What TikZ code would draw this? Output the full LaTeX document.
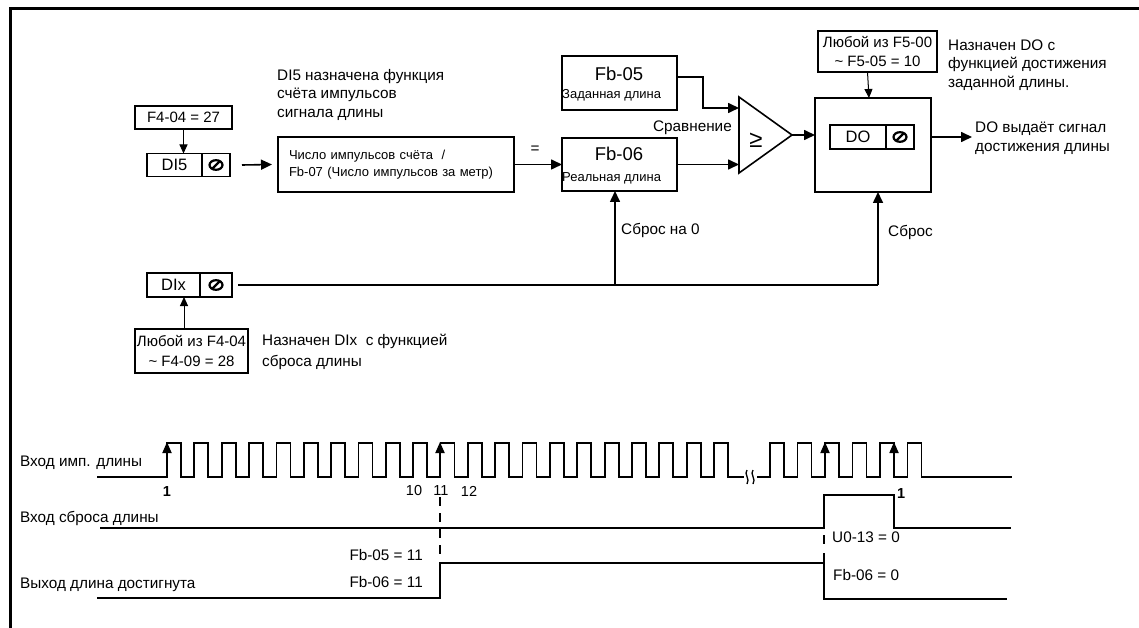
\documentclass[tikz,border=0pt]{standalone}
\usepackage{fontspec}
\setmainfont{Liberation Sans}
\usetikzlibrary{arrows.meta,calc}
\begin{document}
\begin{tikzpicture}[x=1pt,y=-1pt,
  box/.style={draw,line width=1.1pt,inner sep=0pt,outer sep=0pt,font=\fontsize{15}{18.5}\selectfont},
  arr/.style={line width=1.6pt,-{Triangle[length=11pt,width=10pt]}},
  arrthin/.style={line width=1pt,-{Triangle[length=9pt,width=8pt]}},
  ln/.style={line width=1.6pt},
  wave/.style={line width=1.8pt},
  txt/.style={inner sep=0pt,font=\fontsize{15.3}{18.5}\selectfont,align=left},
  small/.style={inner sep=0pt,font=\fontsize{13}{17}\selectfont},
  big/.style={inner sep=0pt,font=\fontsize{18.5}{20}\selectfont},
  nosym/.pic={\draw[line width=2.2pt] (0,0) ellipse (6.5 and 4.8); \draw[line width=2.2pt] (-3.5,3.5)--(3.5,-3.5);}
]
\useasboundingbox (0,0) rectangle (1139,628);
\draw[line width=3pt] (10,628) -- (10,9) -- (1139,9);

% ---- DI5 branch
\node[box,minimum width=97pt,minimum height=23pt] (f404) at (183.5,117.5) {F4-04 = 27};
\node[box,minimum width=55pt,minimum height=23pt,font=\fontsize{16.5}{18}\selectfont] (di5) at (174.5,165) {DI5};
\node[box,minimum width=28pt,minimum height=23pt] (di5s) at (216,165) {};
\pic at (di5s) {nosym};
\draw[arrthin] (f404.south) -- (f404.south |- di5.north);

\node[txt,anchor=north west] (di5t) at (277,69) {DI5 назначена функция\\счёта импульсов\\сигнала длины};

\node[box,minimum width=236pt,minimum height=55pt,text width=214pt,align=left,font=\fontsize{13}{17}\selectfont] (cnt) at (396,164.5) {Число импульсов счёта~~/\\Fb-07 (Число импульсов за метр)};
\draw[arr] ([xshift=12pt]di5s.east) -- ([xshift=-6pt]cnt.west);
\node[txt] (eq) at (535,150) {=};

% ---- Fb-05 / Fb-06
\node[box,minimum width=115pt,minimum height=54pt] (fb05) at (619.5,83) {};
\node[big] (fb05t) at (619,74) {Fb-05};
\node[small,anchor=west] (fb05l) at (562,95) {Заданная длина};
\node[box,minimum width=115pt,minimum height=53pt] (fb06) at (619.5,164.5) {};
\node[big] (fb06t) at (619,154) {Fb-06};
\node[small,anchor=west] (fb06l) at (562,178) {Реальная длина};
\draw[arr] (cnt.east) -- (fb06.west);

% ---- comparator
\coordinate (cmpA) at (739,108);
\coordinate (cmpB) at (739,164.5);
\coordinate (cmpO) at (792,135);
\draw[ln,line join=miter] (739,97) -- (cmpO) -- (739,173) -- cycle;
\node[inner sep=0pt,font=\fontsize{24}{26}\selectfont] (ge) at (756,140) {≥};
\node[txt,anchor=east] (cmpl) at (732,128) {Сравнение};
\draw[arr] ($(fb05.east)+(0,-6)$) -| ($(cmpA)+(-36,0)$) -- (cmpA);
\draw[arr] (fb06.east) -- (cmpB);

% ---- DO block
\node[box,minimum width=116pt,minimum height=94pt] (do) at (873,145) {};
\node[box,minimum width=56pt,minimum height=24pt,font=\fontsize{16.5}{18}\selectfont] (doi) at (858,137) {DO};
\node[box,minimum width=28pt,minimum height=24pt] (dois) at (900,137) {};
\pic at (dois) {nosym};
\draw[arr] (cmpO) -- (cmpO -| do.west);
\node[box,minimum width=119pt,minimum height=41pt,align=center] (f5) at (877.5,51.5) {Любой из F5-00\\\textasciitilde{} F5-05 = 10};
\draw[arrthin] ([xshift=-10pt]f5.south) -- ([xshift=-4pt]do.north);
\node[txt,anchor=north west] (f5t) at (948,39.5) {Назначен DO с\\функцией достижения\\заданной длины.};
\coordinate (doout) at (972,137);
\draw[arr] (doi -| do.east) -- (doout);
\node[txt,anchor=north west] (dot) at (975,122) {DO выдаёт сигнал\\достижения длины};

% ---- DIx branch
\node[box,minimum width=53pt,minimum height=24pt,font=\fontsize{16.5}{18}\selectfont] (dix) at (173.5,285) {DIx};
\node[box,minimum width=32pt,minimum height=24pt] (dixs) at (216,285) {};
\pic at (dixs) {nosym};
\coordinate (j1) at (615,285);
\coordinate (j2) at (878,285);
\draw[ln] ([xshift=6pt]dixs.east) -- (j2);
\draw[arr] (j1) -- (j1 |- fb06.south);
\draw[arr] (j2) -- (j2 |- do.south);
\node[txt,anchor=west] (rst0) at (621,230) {Сброс на 0};
\node[txt,anchor=west] (rst) at (888,232) {Сброс};
\node[box,minimum width=113pt,minimum height=44pt,align=center,font=\fontsize{15}{20}\selectfont] (f409) at (191.5,351) {Любой из F4-04\\\textasciitilde{} F4-09 = 28};
\draw[arrthin] ([xshift=-7.5pt]f409.north) -- ([xshift=-7.5pt]f409.north |- dix.south);
\node[txt,anchor=north west,font=\fontsize{15.3}{20.5}\selectfont] (f409t) at (262,334) {Назначен DIx~~с функцией\\сброса длины};

% ---- timing diagram
\node[txt,anchor=west] (w1) at (20,463) {Вход имп. длины};
\node[txt,anchor=west] (w2) at (20,518) {Вход сброса длины};
\node[txt,anchor=west] (w3) at (20,585) {Выход длина достигнута};

\draw[wave] (97,477) \foreach \i in {0,...,20} { -- ({167+27.35*\i},477) -- ++(0,-34) -- ++(14,0) -- ++(0,34) } -- (744,477);
\draw[line width=1.3pt] (747,470) .. controls (743.5,474) and (750.5,479) .. (747,484);
\draw[line width=1.3pt] (753,470) .. controls (749.5,474) and (756.5,479) .. (753,484);
\draw[wave] (757,477) \foreach \x in {770,797.5,825,852.5,880,907.5} { -- (\x,477) -- ++(0,-34) -- ++(14,0) -- ++(0,34) } -- (1012,477);
\foreach \x in {167,440,825,894} \draw[line width=1.8pt,-{Triangle[length=11pt,width=9pt]}] (\x,477) -- (\x,442);

\node[inner sep=0pt,font=\bfseries\fontsize{14.5}{16}\selectfont] (n1) at (167,492) {1};
\node[inner sep=0pt,font=\fontsize{14.5}{16}\selectfont] (n10) at (414,491) {10};
\node[inner sep=0pt,font=\fontsize{14.5}{16}\selectfont] (n11) at (441,491) {11};
\node[inner sep=0pt,font=\fontsize{14.5}{16}\selectfont] (n12) at (469,491) {12};

\draw[wave] (100,528) -- (824,528) -- (824,495) -- (894,495) -- (894,528) -- (1011,528);
\node[inner sep=0pt,font=\bfseries\fontsize{14.5}{16}\selectfont,anchor=west] (r1) at (897,494) {1};
\draw[line width=1.3pt,dash pattern=on 9pt off 7pt] (440,497) -- (440,556);
\draw[line width=1.3pt] (824,535) -- (824,544);
\node[txt,anchor=west] (u013) at (832,537) {U0-13 = 0};

\draw[wave] (97,598) -- (440,598) -- (440,563) -- (824,563);
\draw[wave] (824,553) -- (824,599) -- (1007,599);
\node[txt,anchor=east] (fb05v) at (423,555) {Fb-05 = 11};
\node[txt,anchor=east] (fb06v) at (423,582) {Fb-06 = 11};
\node[txt,anchor=west] (fb06z) at (833,575) {Fb-06 = 0};
\end{tikzpicture}
\end{document}
